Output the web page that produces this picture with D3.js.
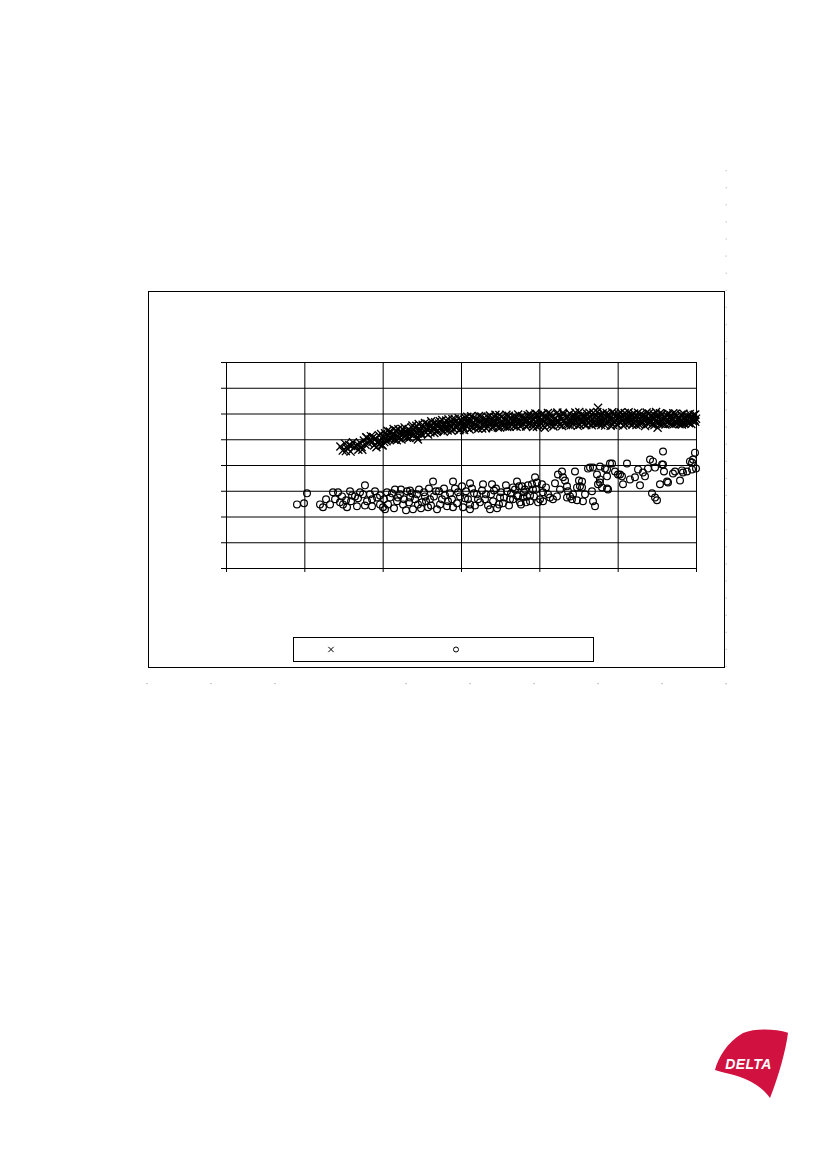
<!DOCTYPE html>
<html>
<head>
<meta charset="utf-8">
<script src="https://cdn.jsdelivr.net/npm/d3@7"></script>
<style>
  html, body { margin: 0; padding: 0; background: #fff; }
  svg { display: block; }
</style>
</head>
<body>
<svg id="page" width="827" height="1169"></svg>
<script>
// ---------- data ----------
const xTicks = [0, 10, 20, 30, 40, 50, 60];
const yTicks = [0, 10, 20, 30, 40, 50, 60, 70, 80];
const seriesNames = ["", ""]; // legend labels are blank in the reference

const crossPoints = [
[14.6,47.2],[14.9,45.6],[15.2,48.3],[15.5,46.4],[15.7,47.8],[15.9,45.2],[16.2,48.8],[16.4,46.9],[16.6,47.5],[16.9,45.9],[17.1,48.6],[17.3,47.0],
[17.6,49.5],[17.8,47.9],[18.0,50.6],[18.2,48.4],[18.5,51.2],[18.7,49.0],[18.9,47.6],[19.1,50.3],[19.3,48.7],[19.5,51.6],[19.7,49.4],[19.9,47.8],[20.0,47.6],
[20.1,50.9],[20.3,52.3],[20.5,49.2],[20.7,51.5],[20.9,53.0],[21.1,50.1],[21.3,52.0],[21.5,49.8],[21.7,53.4],[21.9,51.3],[22.1,50.4],[22.3,52.7],[22.5,54.0],[22.7,51.0],[22.9,52.9],[23.1,50.6],[23.3,53.8],[23.5,52.0],[24.5,49.9],
[23.7,54.6],[23.9,51.5],[24.1,53.1],[24.3,55.2],[24.5,52.2],[24.7,54.0],[24.9,51.9],[25.1,55.6],[25.3,53.3],[25.5,52.5],[25.7,56.0],[25.9,54.2],[26.1,52.6],[26.3,55.3],[26.5,53.8],[26.7,56.6],[26.9,52.9],[27.1,55.0],[27.3,57.0],[27.5,53.7],[27.7,55.8],[27.9,54.1],[28.1,57.3],[28.3,53.4],[28.5,56.2],[28.7,54.7],[28.9,57.8],[29.1,53.9],[29.3,56.7],[29.5,55.1],[29.7,58.2],[29.9,54.0],
[30.1,56.5],[30.3,54.6],[30.5,58.4],[30.7,55.4],[30.9,57.2],[31.1,53.8],[31.3,58.9],[31.5,56.0],[31.7,54.5],[31.9,57.7],[32.1,55.3],[32.3,59.0],[32.5,56.6],[32.7,54.2],[32.9,58.1],[33.1,55.8],[33.3,57.4],[33.5,54.9],[33.7,59.2],[33.9,56.3],[34.1,55.0],[34.3,58.6],[34.5,57.0],[34.7,54.6],[34.9,59.4],[35.1,56.1],[35.3,55.2],[35.5,58.0],[35.7,57.3],[35.9,54.8],[36.1,59.1],[36.3,56.5],[36.5,55.5],[36.7,58.7],[36.9,57.6],[37.1,54.9],[37.3,59.6],[37.5,56.8],[37.7,55.6],[37.9,58.3],[38.1,57.1],[38.3,55.0],[38.5,59.3],[38.7,56.2],[38.9,58.8],[39.1,55.7],[39.3,57.5],[39.5,60.0],[39.7,54.9],[39.9,58.0],
[40.1,56.6],[40.3,59.3],[40.5,55.3],[40.7,54.5],[40.9,58.1],[41.1,60.2],[41.3,56.9],[41.5,55.4],[41.7,59.0],[41.9,57.6],[42.1,55.9],[42.3,60.4],[42.5,57.0],[42.7,58.6],[42.9,55.1],[43.1,59.7],[43.3,56.4],[43.5,58.2],[43.7,55.6],[43.9,60.0],[44.1,57.3],[44.3,56.0],[44.5,59.2],[44.7,58.0],[44.9,55.2],[45.1,60.6],[45.3,56.8],[45.5,58.9],[45.7,55.8],[45.9,57.6],[46.1,59.9],[46.3,56.2],[46.5,58.4],[46.7,55.4],[46.9,60.3],[47.1,57.1],[47.3,59.0],[47.5,62.2],[47.5,56.0],[47.7,58.3],[47.9,55.5],[48.1,60.1],[48.3,57.5],[48.5,56.3],[48.7,59.4],[48.9,58.0],[49.1,55.2],[49.3,60.5],[49.5,57.0],[49.7,58.8],[49.9,55.9],
[50.1,59.8],[50.3,56.6],[50.5,58.1],[50.7,55.3],[50.9,60.2],[51.1,57.4],[51.3,59.1],[51.5,56.1],[51.7,58.5],[51.9,55.6],[52.1,60.0],[52.3,57.2],[52.5,58.9],[52.7,55.8],[52.9,59.6],[53.1,56.9],[53.3,58.2],[53.5,55.1],[53.7,60.4],[53.9,57.6],[54.1,56.3],[54.3,59.3],[54.5,58.0],[54.7,55.5],[54.9,60.6],[55.1,54.5],[55.1,57.0],[55.3,58.7],[55.5,56.0],[55.7,59.8],[55.9,57.7],[56.1,55.7],[56.3,59.1],[56.5,57.0],[56.7,58.4],[56.9,55.9],[57.1,60.1],[57.3,56.7],[57.5,58.9],[57.7,57.4],[57.9,55.8],[58.1,59.5],[58.3,56.4],[58.5,58.2],[58.7,57.0],[58.9,59.0],[59.1,56.2],[59.3,58.6],[59.5,57.3],[59.7,59.4],[59.9,56.8],[60.0,58.0],
[15.3,45.4],[16.0,47.4],[16.8,48.0],[17.4,45.9],
[17.9,50.8],[18.4,49.8],[18.8,50.9],[19.2,46.9],[19.6,48.1],[19.8,52.0],
[20.2,48.9],[20.4,50.3],[20.6,53.3],[20.8,50.0],[21.0,52.6],[21.2,51.2],[21.4,54.0],[21.6,51.5],[21.8,49.6],[22.0,53.9],[22.2,51.8],[22.4,49.9],[22.6,52.2],[22.8,54.6],[23.0,51.7],[23.2,52.4],[23.4,50.5],
[23.6,53.0],[23.8,55.3],[24.0,52.0],[24.2,54.4],[24.4,50.9],[24.6,55.9],[24.8,53.4],[25.0,52.2],[25.2,54.6],[25.4,56.3],[25.6,53.9],[25.8,51.8],[26.0,55.1],[26.2,57.0],[26.4,54.4],[26.6,52.4],[26.8,55.7],[27.0,53.4],[27.2,56.1],[27.4,54.5],[27.6,57.5],[27.8,52.9],[28.0,55.6],[28.2,54.4],[28.4,57.7],[28.6,55.2],[28.8,53.3],[29.0,56.3],[29.2,57.9],[29.4,54.4],[29.6,56.0],[29.8,53.5],
[30.0,57.6],[30.2,55.2],[30.4,53.6],[30.6,57.0],[30.8,58.7],[31.0,55.7],[31.2,57.4],[31.4,54.6],[31.6,58.3],[31.8,55.9],[32.0,57.9],[32.2,54.1],[32.4,57.3],[32.6,58.8],[32.8,55.6],[33.0,57.0],[33.2,54.3],[33.4,58.6],[33.6,56.1],[33.8,57.8],[34.0,54.4],[34.2,56.8],[34.4,59.5],[34.6,55.8],[34.8,57.9],[35.0,54.6],[35.2,58.6],[35.4,56.6],[35.6,55.0],[35.8,59.5],[36.0,57.1],[36.2,54.9],[36.4,58.2],[36.6,56.9],[36.8,55.1],[37.0,58.6],[37.2,56.2],[37.4,57.9],[37.6,55.0],[37.8,59.0],[38.0,56.0],[38.2,58.3],[38.4,56.9],[38.6,55.4],[38.8,59.8],[39.0,57.1],[39.2,54.8],[39.4,58.7],[39.6,56.4],[39.8,59.4],
[40.0,55.2],[40.2,57.6],[40.4,60.0],[40.6,56.8],[40.8,58.6],[41.0,55.7],[41.2,58.3],[41.4,59.9],[41.6,56.6],[41.8,55.0],[42.0,58.2],[42.2,56.7],[42.4,59.4],[42.6,55.6],[42.8,57.6],[43.0,60.3],[43.2,57.3],[43.4,55.5],[43.6,59.0],[43.8,57.0],[44.0,55.4],[44.2,58.9],[44.4,57.6],[44.6,60.4],[44.8,56.5],[45.0,58.4],[45.2,55.6],[45.4,59.6],[45.6,57.2],[45.8,59.0],[46.0,55.5],[46.2,58.0],[46.4,60.3],[46.6,57.2],[46.8,56.3],[47.0,58.8],[47.2,55.8],[47.4,60.6],[47.6,57.0],[47.8,59.6],[48.0,56.8],[48.2,58.7],[48.4,55.3],[48.6,60.2],[48.8,56.9],[49.0,59.2],[49.2,57.6],[49.4,55.6],[49.6,60.0],[49.8,57.3],
[50.0,55.5],[50.2,58.6],[50.4,60.4],[50.6,57.0],[50.8,59.0],[51.0,55.8],[51.2,58.2],[51.4,60.5],[51.6,57.3],[51.8,59.6],[52.0,56.4],[52.2,58.4],[52.4,55.5],[52.6,60.3],[52.8,57.6],[53.0,55.9],[53.2,59.5],[53.4,57.2],[53.6,58.9],[53.8,56.2],[54.0,60.0],[54.2,57.6],[54.4,55.7],[54.6,59.6],[54.8,57.0],[55.0,58.9],[55.2,56.2],[55.4,60.1],[55.6,57.5],[55.8,55.9],[56.0,58.6],[56.2,57.2],[56.4,60.0],[56.6,56.0],[56.8,59.3],[57.0,57.8],[57.2,55.9],[57.4,59.9],[57.6,56.4],[57.8,58.5],[58.0,57.3],[58.2,55.7],[58.4,59.9],[58.6,56.1],[58.8,58.0],[59.0,56.8],[59.2,59.8],[59.4,55.9],[59.6,58.1],[59.8,57.5],[59.9,59.6]
];

const circlePoints = [
[9.06,24.7],[9.96,25.1],[10.34,29.0],[12.38,23.6],[13.28,24.7],[13.66,29.4],[13.92,26.7],[14.81,27.8],[14.94,24.7],[15.45,23.6],
[15.83,29.8],[15.96,25.9],[16.47,27.8],[16.72,24.0],[17.11,29.4],[17.74,32.1],[17.49,28.6],[18.0,25.9],[18.64,24.0],[19.02,29.8],
[19.28,27.4],[19.66,24.7],[20.04,23.6],[20.30,22.8],[20.55,29.4],[20.94,27.4],[21.57,30.5],[21.83,25.9],[22.21,28.6],[22.60,24.7],
[23.11,29.8],[23.49,27.4],[23.87,22.8],[24.38,28.6],[24.51,24.7],[23.49,30.1],[26.43,33.6],[26.04,26.7],[27.32,24.7],[25.40,27.8],
[25.02,25.5],[25.79,23.6],[26.81,29.8],[27.96,28.2],[28.34,25.9],[28.98,33.6],[28.98,23.6],[29.62,29.4],[30.13,31.7],[30.51,27.1],
[31.15,32.9],[31.15,24.7],[31.15,22.8],[31.66,29.0],[32.17,26.7],[32.81,32.5],[33.19,28.6],[33.70,22.8],[33.96,32.5],[34.21,30.1],
[34.60,23.2],[34.98,27.4],[35.36,25.1],[35.87,29.8],[36.26,26.7],[36.64,31.3],[37.15,33.6],[37.15,28.2],[37.53,25.5],[37.79,31.7],
[38.04,29.4],[38.43,27.8],[38.81,25.9],[39.19,30.5],[39.45,35.2],[39.70,33.2],[40.09,26.7],[40.47,29.4],[40.47,25.9],[40.34,32.5],
[41.11,28.6],[41.74,26.7],[42.00,32.9],[42.38,36.3],[42.89,37.5],[43.02,35.2],[43.28,34.0],[43.53,31.7],[43.66,29.8],[43.92,27.8],
[44.17,26.7],[44.30,28.6],[44.55,37.5],[44.81,31.3],[45.06,34.0],[45.19,31.7],[45.57,25.9],[46.47,39.0],[46.72,29.8],[46.85,25.9],
[47.11,24.0],[47.36,36.3],[47.49,32.5],[47.74,34.4],[47.74,39.4],[48.0,31.3],[48.64,38.3],[48.77,30.5],[49.02,40.6],[48.64,35.6],
[50.04,36.3],[50.55,35.6],[51.19,40.6],[51.57,34.4],[52.60,38.3],[52.85,32.1],[53.23,37.1],[53.49,35.6],[53.87,38.6],[54.13,42.1],
[54.51,41.4],[54.77,39.0],[54.38,29.0],[54.77,27.4],[55.02,26.3],[55.40,32.5],[55.79,40.2],[55.91,37.5],[55.79,45.2],[56.30,33.6],
[57.06,36.7],[57.32,37.5],[57.96,34.0],[58.21,37.9],[58.85,37.5],[59.49,38.3],[59.49,41.0],[59.62,42.1],[59.87,44.8],[60.0,38.6],
[46.21,38.6],[46.85,39.0],[48.38,38.6],[49.28,40.6],[49.66,37.5],[50.30,36.3],[50.68,32.5],[52.21,35.2],[55.66,40.2],[56.43,33.2],
[58.34,37.1],[59.23,41.4],[47.74,33.2],[48.64,30.9],[45.45,33.6],[45.45,31.3],
[41.36,27.4],[42.25,27.8],[42.64,30.5],[43.53,27.4],[44.81,26.3],[40.85,31.3],[45.83,28.6],
[19.66,28.2],[20.17,26.7],[20.68,24.7],[21.19,29.0],[21.45,23.2],[21.96,27.4],[22.34,30.5],[22.72,26.7],[22.98,22.4],[23.36,25.5],
[23.74,29.0],[24.13,26.7],[24.64,30.5],[24.89,23.2],[25.28,29.4],[25.53,25.9],[25.91,30.9],[26.17,24.3],[26.55,27.8],[26.94,22.8],
[27.19,29.8],[27.57,26.7],[27.83,30.9],[28.21,24.0],[28.60,29.0],[28.85,26.7],[29.23,30.9],[29.49,25.1],[29.87,27.8],[30.26,23.6],
[30.64,29.8],[30.89,26.7],[31.40,30.9],[31.79,24.3],[32.04,28.6],[32.43,25.5],[32.68,30.1],[33.06,26.7],[33.45,24.3],[33.83,28.6],
[34.09,25.9],[34.47,30.9],[34.85,24.7],[35.11,29.4],[35.49,27.4],[35.74,32.1],[36.13,24.3],[36.38,29.0],[36.64,26.7],[36.89,30.5],
[37.28,27.8],[37.40,31.7],[37.66,24.7],[37.91,27.4],[38.17,30.5],[38.30,25.5],[38.55,32.1],[38.81,28.2],[39.06,32.5],[39.32,27.8],
[39.57,30.5],[39.83,25.5],[17.74,24.3],[18.38,28.6],[18.64,26.7],[16.85,27.1],[16.09,28.2],[15.32,26.3],[14.55,25.5],[14.30,29.4],
[12.77,26.7],[12.0,24.7]
];

// ---------- layout ----------
const svg = d3.select("#page");
const frame = { x: 148.5, y: 291.5, w: 576, h: 376 };
const plot = { left: 226, right: 696, top: 362, bottom: 568 };

const x = d3.scaleLinear().domain([0, 60]).range([plot.left, plot.right]);
const y = d3.scaleLinear().domain([0, 80]).range([plot.bottom, plot.top]);

// faint decorative dots along page edge (scan artifacts)
const dotYs = d3.range(170, 684, 17.1);
svg.append("g").selectAll("rect").data(dotYs).join("rect")
  .attr("x", 725.5).attr("y", d => d).attr("width", 1.5).attr("height", 1.2)
  .attr("fill", "#cfcfcf");
const dotXs = [146, 210, 274, 405, 469, 533, 597, 661, 725];
svg.append("g").selectAll("rect").data(dotXs).join("rect")
  .attr("x", d => d).attr("y", 683).attr("width", 2).attr("height", 1.2)
  .attr("fill", "#cfcfcf");

// chart frame
svg.append("rect")
  .attr("x", frame.x).attr("y", frame.y).attr("width", frame.w).attr("height", frame.h)
  .attr("fill", "#fff").attr("stroke", "#000").attr("stroke-width", 1);

// grid lines (via axes)
const gridY = svg.append("g").attr("transform", `translate(${plot.left},0)`)
  .call(d3.axisLeft(y).tickValues(yTicks).tickSize(-(plot.right - plot.left)).tickFormat(""));
gridY.select(".domain").remove();
gridY.selectAll("line").attr("stroke", "#000");

const gridX = svg.append("g").attr("transform", `translate(0,${plot.bottom})`)
  .call(d3.axisBottom(x).tickValues(xTicks).tickSize(-(plot.bottom - plot.top)).tickFormat(""));
gridX.select(".domain").remove();
gridX.selectAll("line").attr("stroke", "#000");

// outer tick marks
const tickY = svg.append("g").attr("transform", `translate(${plot.left},0)`)
  .call(d3.axisLeft(y).tickValues(yTicks).tickSize(5).tickFormat(""));
tickY.select(".domain").remove();
tickY.selectAll("line").attr("stroke", "#000");

const tickX = svg.append("g").attr("transform", `translate(0,${plot.bottom})`)
  .call(d3.axisBottom(x).tickValues(xTicks).tickSize(4).tickFormat(""));
tickX.select(".domain").remove();
tickX.selectAll("line").attr("stroke", "#000");

// series: circles
svg.append("g").selectAll("circle").data(circlePoints).join("circle")
  .attr("cx", d => x(d[0])).attr("cy", d => y(d[1])).attr("r", 3.4)
  .attr("fill", "none").attr("stroke", "#000").attr("stroke-width", 1.2);

// series: crosses
const xSym = d3.symbol(d3.symbolX).size(44);
svg.append("g").selectAll("path").data(crossPoints).join("path")
  .attr("transform", d => `translate(${x(d[0])},${y(d[1])})`)
  .attr("d", xSym)
  .attr("fill", "none").attr("stroke", "#000").attr("stroke-width", 1.35);

// legend
const legend = svg.append("g");
legend.append("rect").attr("x", 293.5).attr("y", 637.5).attr("width", 300).attr("height", 24)
  .attr("fill", "#fff").attr("stroke", "#000").attr("stroke-width", 1);
legend.append("path").attr("transform", "translate(331,649.5)")
  .attr("d", d3.symbol(d3.symbolX).size(20)).attr("fill", "none").attr("stroke", "#000");
legend.append("text").attr("x", 342).attr("y", 653).attr("font-family", "Arial, Liberation Sans, sans-serif")
  .attr("font-size", 11).text(seriesNames[0]);
legend.append("circle").attr("cx", 456).attr("cy", 649.5).attr("r", 2.5)
  .attr("fill", "none").attr("stroke", "#000");
legend.append("text").attr("x", 466).attr("y", 653).attr("font-family", "Arial, Liberation Sans, sans-serif")
  .attr("font-size", 11).text(seriesNames[1]);

// DELTA logo
const logo = svg.append("g");
logo.append("path")
  .attr("d", "M715,1070 C718,1058 727,1042 743,1033 C756,1028 775,1029 788,1032.7 C786,1050 778,1078 770,1098 C762,1086 746,1078 730,1074 C724,1072.5 719,1071.5 715,1070 Z")
  .attr("fill", "#d11241");
logo.append("text")
  .attr("x", 748.5).attr("y", 1068.5).attr("text-anchor", "middle")
  .attr("font-family", "Liberation Sans, Arial, sans-serif").attr("font-weight", "bold")
  .attr("font-style", "italic").attr("font-size", 14).attr("letter-spacing", 0.4)
  .attr("fill", "#fff").text("DELTA");
</script>
</body>
</html>
